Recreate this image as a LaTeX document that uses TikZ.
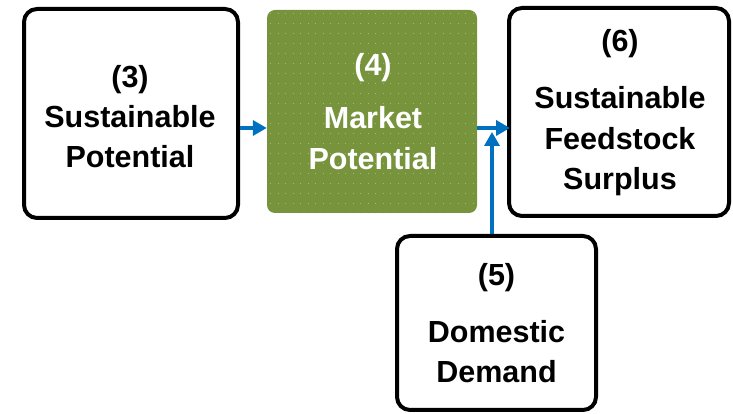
\documentclass[tikz,border=0pt]{standalone}
\usepackage{fontspec}
\setmainfont{Liberation Sans}
\usetikzlibrary{arrows.meta}
\definecolor{flowblue}{HTML}{0070C0}
\definecolor{olivefill}{HTML}{77933C}
\definecolor{olivedot}{HTML}{A3BA72}

\begin{document}
\begin{tikzpicture}[x=1pt,y=1pt,
  stage/.style={draw=black, line width=4pt, rounded corners=13pt, fill=white,
    inner sep=0pt, minimum width=#1},
  stagetext/.style={font=\bfseries\fontsize{30.5}{40}\selectfont,
    align=center, anchor=base, inner sep=0pt},
  flow/.style={draw=flowblue, line width=4pt,
    -{Triangle[length=14pt,width=15pt]}}
]
\useasboundingbox (0,0) rectangle (733,414);

% boxes
\node[stage=214pt, minimum height=209pt] (b3) at (131,300.5) {};
\node[fill=olivefill, rounded corners=8pt, inner sep=0pt,
      minimum width=210pt, minimum height=203pt] (b4) at (372,302.5) {};
\node[stage=220pt, minimum height=208pt] (b6) at (619,302) {};
\node[stage=199pt, minimum height=174pt] (b5) at (496.5,91) {};

% dotted texture of the market box
\begin{scope}
  \clip[rounded corners=8pt] (b4.south west) rectangle (b4.north east);
  \foreach \yy in {400,390,...,200} {
    \foreach \xx in {270,277.5,...,477} {
      \fill[olivedot] (\xx,\yy) rectangle ++(1.1,1.1);
    }
  }
\end{scope}

% texts (base anchor sits on the last line)
\node[stagetext] (t3) at (130,246) {(3)\\Sustainable\\Potential};
\node[stagetext, text=white] (t4) at (373,244) {(4)\\[13pt]Market\\[1pt]Potential};
\node[stagetext] (t6) at (620,224) {(6)\\[17pt]Sustainable\\[1pt]Feedstock\\Surplus};
\node[stagetext] (t5) at (496.5,31) {(5)\\[17pt]Domestic\\Demand};

% connectors
\coordinate (jn) at (492,286);
\draw[flow] (b3.east |- jn) -- (b4.west |- jn);
\draw[flow, shorten >=-3pt] (b4.east |- jn) -- (b6.west |- jn);
\draw[flow] (b5.north -| jn) -- ([yshift=-4pt]jn);
\end{tikzpicture}
\end{document}
